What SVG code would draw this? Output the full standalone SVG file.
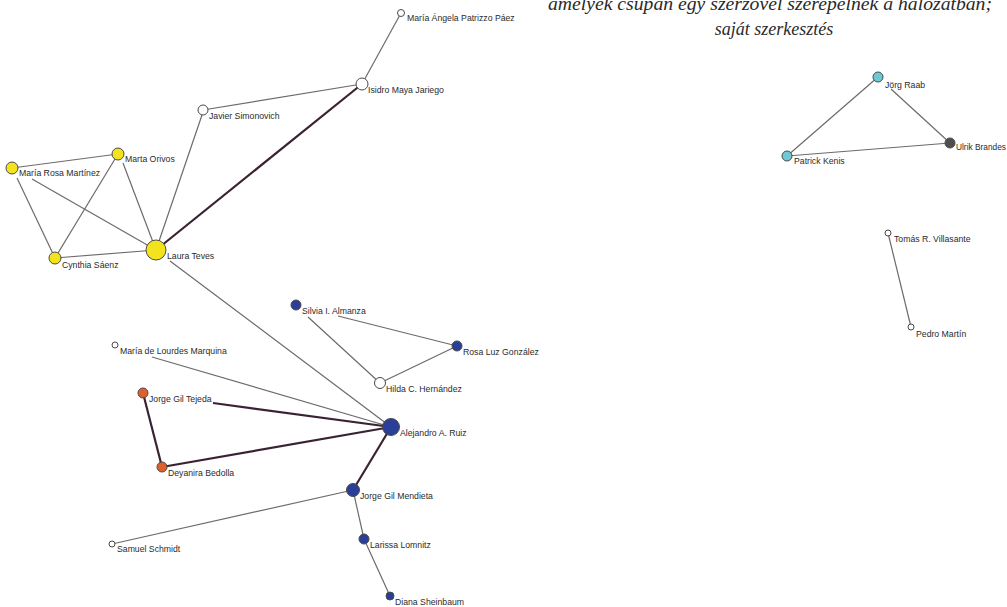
<svg xmlns="http://www.w3.org/2000/svg" width="1007" height="607" viewBox="0 0 1007 607">
<style>
.e{stroke:#6f6a6a;stroke-width:1.2;fill:none}
.t{stroke:#3b2232;stroke-width:2.2;fill:none}
.n{stroke:#4a4a4a;stroke-width:1}
.w{fill:#ffffff}
.y{fill:#f2e31c}
.b{fill:#2b3f98}
.o{fill:#e0602c}
.c{fill:#6ec9d6}
.g{fill:#4f4f4f}
.l{font-family:"Liberation Sans",Arial,sans-serif;font-size:8.7px;fill:#2b2b2b}
.cap{font-family:"Liberation Serif","Times New Roman",serif;font-style:italic;font-size:18px;fill:#2a2a2a;text-anchor:middle}
</style>
<rect width="1007" height="607" fill="#ffffff"/>
<g id="caption">
<text class="cap" x="770" y="10" textLength="444" lengthAdjust="spacingAndGlyphs">amelyek csupán egy szerzővel szerepelnek a hálózatban;</text>
<text class="cap" x="774" y="35">saját szerkesztés</text>
</g>
<g id="connectors">
<line class="e" x1="401" y1="13" x2="362" y2="84"/>
<line class="e" x1="362" y1="84" x2="203" y2="110"/>
<line class="t" x1="362" y1="84" x2="156" y2="250"/>
<line class="e" x1="202" y1="115" x2="156" y2="250"/>
<line class="e" x1="12" y1="168" x2="118" y2="154"/>
<line class="e" x1="17" y1="178" x2="55" y2="258"/>
<line class="e" x1="32" y1="179" x2="156" y2="250"/>
<line class="e" x1="118" y1="154" x2="55" y2="258"/>
<line class="e" x1="123" y1="163" x2="156" y2="250"/>
<line class="e" x1="55" y1="258" x2="156" y2="250"/>
<line class="e" x1="170" y1="261" x2="391" y2="427"/>
<line class="e" x1="338" y1="316" x2="457" y2="346"/>
<line class="e" x1="308" y1="317" x2="380" y2="383"/>
<line class="e" x1="380" y1="383" x2="457" y2="346"/>
<line class="e" x1="152" y1="357" x2="391" y2="427"/>
<line class="t" x1="213" y1="403" x2="391" y2="427"/>
<line class="t" x1="143" y1="393" x2="162" y2="467"/>
<line class="t" x1="162" y1="467" x2="391" y2="427"/>
<line class="t" x1="391" y1="427" x2="353" y2="490"/>
<line class="e" x1="353" y1="490" x2="112" y2="544"/>
<line class="e" x1="353" y1="490" x2="364" y2="539"/>
<line class="e" x1="364" y1="539" x2="390" y2="596"/>
<line class="e" x1="878" y1="77" x2="787" y2="156"/>
<line class="e" x1="891" y1="89" x2="950" y2="143"/>
<line class="e" x1="787" y1="156" x2="950" y2="143"/>
<line class="e" x1="888" y1="233" x2="911" y2="327"/>
</g>
<g id="n-patrizzo"><circle class="n w" cx="401" cy="13" r="3.5"/><text class="l" x="407" y="21">María Ángela Patrizzo Páez</text></g>
<g id="n-isidro"><circle class="n w" cx="362" cy="84" r="6"/><text class="l" x="368" y="93">Isidro Maya Jariego</text></g>
<g id="n-javier"><circle class="n w" cx="203" cy="110" r="5"/><text class="l" x="209" y="119">Javier Simonovich</text></g>
<g id="n-marta"><circle class="n y" cx="118" cy="154" r="6"/><text class="l" x="125" y="162">Marta Orivos</text></g>
<g id="n-mariarosa"><circle class="n y" cx="12" cy="168" r="6"/><text class="l" x="19" y="176">María Rosa Martínez</text></g>
<g id="n-laura"><circle class="n y" cx="156" cy="250" r="10"/><text class="l" x="167" y="259">Laura Teves</text></g>
<g id="n-cynthia"><circle class="n y" cx="55" cy="258" r="6"/><text class="l" x="62" y="268">Cynthia Sáenz</text></g>
<g id="n-silvia"><circle class="n b" cx="296" cy="305" r="5"/><text class="l" x="302" y="314">Silvia I. Almanza</text></g>
<g id="n-rosaluz"><circle class="n b" cx="457" cy="346" r="5"/><text class="l" x="463" y="355">Rosa Luz González</text></g>
<g id="n-marquina"><circle class="n w" cx="115" cy="345" r="3"/><text class="l" x="120" y="354">María de Lourdes Marquina</text></g>
<g id="n-hilda"><circle class="n w" cx="380" cy="383" r="5.5"/><text class="l" x="386" y="392">Hilda C. Hernández</text></g>
<g id="n-tejeda"><circle class="n o" cx="143" cy="393" r="5"/><text class="l" x="149" y="402">Jorge Gil Tejeda</text></g>
<g id="n-alejandro"><circle class="n b" cx="391" cy="427" r="8.5"/><text class="l" x="400" y="436">Alejandro A. Ruiz</text></g>
<g id="n-deyanira"><circle class="n o" cx="162" cy="467" r="5"/><text class="l" x="168" y="476">Deyanira Bedolla</text></g>
<g id="n-mendieta"><circle class="n b" cx="353" cy="490" r="6.5"/><text class="l" x="360" y="499">Jorge Gil Mendieta</text></g>
<g id="n-samuel"><circle class="n w" cx="112" cy="544" r="3"/><text class="l" x="117" y="552">Samuel Schmidt</text></g>
<g id="n-larissa"><circle class="n b" cx="364" cy="539" r="5"/><text class="l" x="370" y="548">Larissa Lomnitz</text></g>
<g id="n-diana"><circle class="n b" cx="390" cy="596" r="4"/><text class="l" x="395" y="605">Diana Sheinbaum</text></g>
<g id="n-jorg"><circle class="n c" cx="878" cy="77" r="5"/><text class="l" x="885" y="88">Jörg Raab</text></g>
<g id="n-ulrik"><circle class="n g" cx="950" cy="143" r="5"/><text class="l" x="956" y="150" textLength="50" lengthAdjust="spacingAndGlyphs">Ulrik Brandes</text></g>
<g id="n-patrick"><circle class="n c" cx="787" cy="156" r="5"/><text class="l" x="794" y="164">Patrick Kenis</text></g>
<g id="n-tomas"><circle class="n w" cx="888" cy="233" r="3"/><text class="l" x="894" y="242">Tomás R. Villasante</text></g>
<g id="n-pedro"><circle class="n w" cx="911" cy="327" r="3"/><text class="l" x="916" y="337">Pedro Martín</text></g>
</svg>
